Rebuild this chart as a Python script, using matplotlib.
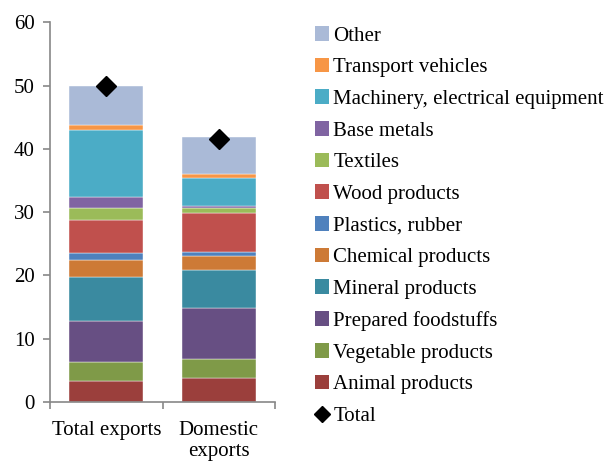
import numpy as np
import matplotlib.pyplot as plt
from matplotlib.lines import Line2D
from matplotlib.patches import Patch

plt.rcParams['font.family'] = ['Liberation Serif', 'DejaVu Serif']

# Data
groups = ['Total exports', 'Domestic\nexports']
categories = ['Animal products', 'Vegetable products', 'Prepared foodstuffs',
              'Mineral products', 'Chemical products', 'Plastics, rubber',
              'Wood products', 'Textiles', 'Base metals',
              'Machinery, electrical equipment', 'Transport vehicles', 'Other']
total_exports = [3.3, 3.0, 6.5, 7.0, 2.7, 1.1, 5.1, 2.0, 1.7, 10.5, 0.9, 6.2]
domestic_exports = [3.8, 2.9, 8.2, 5.9, 2.3, 0.6, 6.2, 0.7, 0.3, 4.5, 0.6, 5.8]
totals = [50.0, 41.6]
colors = ['#9B3F3C', '#7F9A48', '#674F83', '#3A8AA0', '#CD7A36', '#4F81BD',
          '#C0504D', '#9BBB59', '#8064A2', '#4BACC6', '#F79646', '#AABAD7']

values = np.array([total_exports, domestic_exports]).T
x = np.arange(len(groups))

fig = plt.figure(figsize=(6.11, 4.63), dpi=100)
ax = fig.add_axes([0.082, 0.132, 0.368, 0.820])

bottom = np.zeros(len(groups))
for vals, col in zip(values, colors):
    ax.bar(x, vals, width=0.66, bottom=bottom, color=col,
           edgecolor='white', linewidth=0.3)
    bottom += vals

ax.plot(x, totals, linestyle='none', marker='D', color='black', markersize=10)

ax.set_xlim(-0.5, 1.5)
ax.set_ylim(0, 60)
ax.set_yticks(range(0, 61, 10))
ax.set_xticks(x)
ax.set_xticklabels(groups, fontsize=15, linespacing=1.1, va='top')
ax.set_xticks([-0.5, 0.5, 1.5], minor=True)
ax.tick_params(axis='x', which='major', length=0, pad=14)
ax.tick_params(axis='x', which='minor', length=5, width=1.2, color='#888888')
ax.tick_params(axis='y', length=5, width=1.2, color='#888888', labelsize=15, pad=6)

for s in ['top', 'right']:
    ax.spines[s].set_visible(False)
for s in ['left', 'bottom']:
    ax.spines[s].set_color('#888888')
    ax.spines[s].set_linewidth(1.2)

handles = [Patch(facecolor=c) for c in colors[::-1]]
labels = categories[::-1]
handles.append(Line2D([], [], linestyle='none', marker='D', color='black', markersize=8))
labels.append('Total')
fig.legend(handles, labels, loc='upper left', bbox_to_anchor=(0.515, 0.944),
           frameon=False, fontsize=15, handlelength=0.7, handleheight=0.7,
           handletextpad=0.2, labelspacing=0.58, borderpad=0, borderaxespad=0)

fig.savefig('out.png', dpi=100)
